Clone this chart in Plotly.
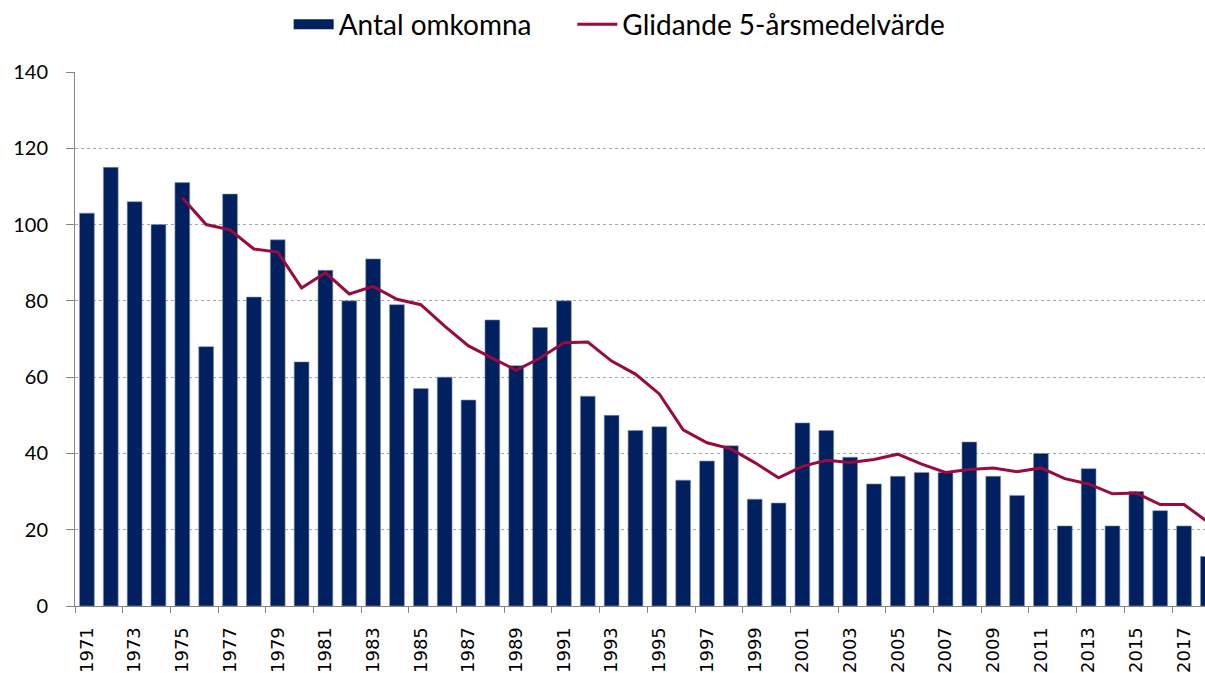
import plotly.graph_objects as go

years = [str(y) for y in range(1971, 2019)]
deaths = [103, 115, 106, 100, 111, 68, 108, 81, 96, 64,
          88, 80, 91, 79, 57, 60, 54, 75, 63, 73,
          80, 55, 50, 46, 47, 33, 38, 42, 28, 27,
          48, 46, 39, 32, 34, 35, 35, 43, 34, 29,
          40, 21, 36, 21, 30, 25, 21, 13]
avg_years = [str(y) for y in range(1975, 2019)]
moving_avg = [107, 100, 98.6, 93.6, 92.8, 83.4, 87.4, 81.8, 83.8, 80.4,
              79, 73.4, 68.2, 65, 61.8, 65, 69, 69.2, 64.2, 60.8,
              55.6, 46.2, 42.8, 41.2, 37.6, 33.6, 36.6, 38.2, 37.6, 38.4,
              39.8, 37.2, 35, 35.8, 36.2, 35.2, 36.2, 33.4, 32, 29.4,
              29.6, 26.6, 26.6, 22]
y_ticks = [0, 20, 40, 60, 80, 100, 120, 140]

BAR_COLOR = "#002060"
LINE_COLOR = "#9b0a3c"
PAD = "\u00a0" * 5

fig = go.Figure()
fig.add_trace(go.Bar(
    x=years, y=deaths, name="Antal omkomna", showlegend=False,
    marker=dict(color=BAR_COLOR, line=dict(color="#8a93b0", width=0.6)),
))
# legend-only swatch shaped like the reference's wide rectangle
fig.add_trace(go.Scatter(
    x=[None], y=[None], name="Antal omkomna" + PAD, mode="lines",
    line=dict(color=BAR_COLOR, width=16),
))
fig.add_trace(go.Scatter(
    x=avg_years, y=moving_avg, name="Glidande 5-årsmedelvärde",
    mode="lines", line=dict(color=LINE_COLOR, width=3),
))

fig.update_layout(
    width=1205, height=673,
    margin=dict(l=75, r=0, t=72, b=67, autoexpand=False),
    plot_bgcolor="white", paper_bgcolor="white",
    bargap=0.38,
    font=dict(family="Lato", color="#000000"),
    legend=dict(orientation="h", x=0.482, xanchor="center", y=1.089, yanchor="middle",
                font=dict(family="Lato", size=28), itemwidth=40,
                traceorder="normal"),
    xaxis=dict(
        type="category", range=[-0.5, 46.88], automargin=False,
        tickmode="linear", dtick=2, tick0=0,
        tickson="boundaries", ticks="outside", ticklen=6, tickcolor="#868686",
        tickangle=-90, tickfont=dict(family="DejaVu Sans", size=18),
        ticklabelstandoff=13,
        showline=True, linecolor="#868686", linewidth=1,
        showgrid=False,
    ),
    yaxis=dict(
        range=[0, 140], tickvals=y_ticks, automargin=False,
        ticks="outside", ticklen=8, tickcolor="#868686",
        tickfont=dict(family="Lato", size=20),
        ticklabelstandoff=14,
        showline=True, linecolor="#868686", linewidth=1,
        showgrid=True, gridcolor="#a6a6a6", griddash="dot", gridwidth=1,
        zeroline=False,
    ),
)

fig.write_html("out.html", config={"displayModeBar": False},
               post_script="document.body.style.margin='0';document.body.style.overflow='hidden';")
